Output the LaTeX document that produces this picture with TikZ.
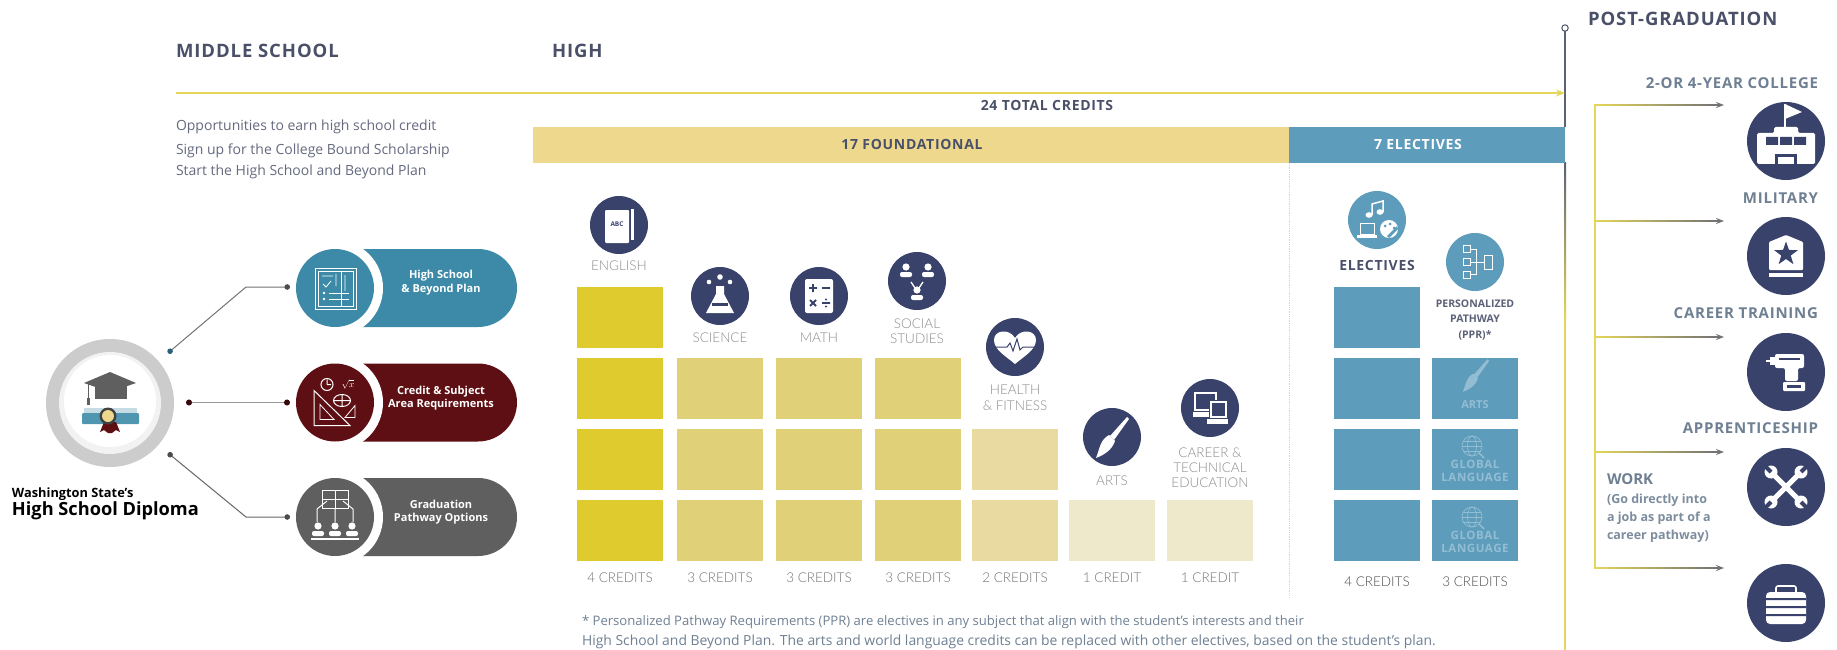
\documentclass[tikz,border=0pt]{standalone}
\usepackage{fontspec}
\setmainfont{Open Sans}
\newfontfamily\latofont{Lato Light}
\newfontfamily\spaced[LetterSpace=5]{Open Sans}
\usetikzlibrary{arrows.meta,shapes.geometric,shapes.misc}
\definecolor{navy}{HTML}{39426B}
\definecolor{head}{HTML}{4A5068}
\definecolor{ylw}{HTML}{E4D65A}
\definecolor{bandy}{HTML}{EDD88E}
\definecolor{blu}{HTML}{5E9CBB}
\definecolor{teal}{HTML}{3C8AA8}
\definecolor{maroon}{HTML}{5E0F14}
\definecolor{gry}{HTML}{5F5F5F}
\definecolor{cA}{HTML}{E0CB2E}
\definecolor{cB}{HTML}{E0D078}
\definecolor{cC}{HTML}{E8DAA0}
\definecolor{cD}{HTML}{EFE9CB}
\definecolor{pale}{HTML}{93BDD3}
\definecolor{slate}{HTML}{6F8093}
\newcommand{\fsz}[2]{\fontsize{#1}{#2}\selectfont}
\newcommand{\person}[3]{\begin{scope}[shift={(#1,#2)}]
 \fill[#3] (0,-4) circle (3.6pt);
 \fill[#3,rounded corners=2pt] (-6,6) -- (-6,1) -- (6,1) -- (6,6) -- cycle;
\end{scope}}
\newcommand{\brushicon}[3]{\begin{scope}[shift={(#1,#2)}]
 \fill[#3] (17,-21) -- (19,-19) -- (4,2) -- (0,-2) -- cycle;
 \fill[#3] (-1,-3) .. controls (-10,2) and (-10,10) .. (-14,20) .. controls (-6,17) and (2,12) .. (5,3) -- cycle;
\end{scope}}
\newcommand{\globeicon}[2]{\begin{scope}[shift={(#1,#2)},draw=pale,line width=.7pt]
 \draw (0,0) circle (10pt);
 \draw (0,0) ellipse (4.5pt and 10pt);
 \draw (-10,0) -- (10,0) (-9,-5) -- (9,-5) (-9,5) -- (9,5);
 \draw[line width=1.4pt] (7,7) -- (12,12);
\end{scope}}
\tikzset{
 txt/.style={inner sep=0pt,outer sep=0pt},
 hdr/.style={txt,anchor=west,text=head,font=\spaced\fsz{18.5}{20}\bfseries},
 lst/.style={txt,anchor=west,text=head!85!white,font=\fsz{14}{16}\mdseries},
 band/.style={txt,text=#1,font=\spaced\fsz{14}{16}\bfseries},
 bar/.style={fill=#1,draw=none},
 subj/.style={txt,align=center,text=black!45!white,font=\latofont\fsz{13.5}{#1}},
 subj/.default=15,
 cred/.style={txt,text=black!55!white,font=\latofont\fsz{13.5}{15}},
 disc/.style={circle,fill=#1,draw=none,minimum size=58pt,inner sep=0pt},
 big/.style={circle,fill=navy,draw=none,minimum size=78pt,inner sep=0pt},
 postl/.style={txt,anchor=east,text=slate,font=\spaced\fsz{15}{17}\bfseries},
 pilltxt/.style={txt,align=center,text=white,font=\fsz{11}{13.5}\bfseries},
 pill/.style={rounded rectangle,rounded rectangle west arc=none,fill=#1,draw=none,minimum width=182pt,minimum height=78pt,inner sep=0pt},
 pillic/.style={circle,fill=#1,draw=none,minimum size=78pt,inner sep=0pt},
 halo/.style={circle,fill=white,draw=none,minimum size=96pt,inner sep=0pt},
 branch/.style={draw=black!55!white,line width=1.6pt,-{Stealth[length=8pt,width=6pt]}},
 ln/.style={draw=white,line width=.8pt},
}
\begin{document}
\begin{tikzpicture}[x=1pt,y=-1pt]
\useasboundingbox (0,0) rectangle (1837,650);
\fill[white] (0,0) rectangle (1837,650);

% headers
\node[hdr] (hms) at (176,51) {MIDDLE SCHOOL};
\node[hdr] (hhi) at (552,51) {HIGH};
\node[hdr] (hpg) at (1588,19) {POST-GRADUATION};
\node[lst] (l1) at (176,127) {Opportunities to earn high school credit};
\node[lst] (l2) at (176,151) {Sign up for the College Bound Scholarship};
\node[lst] (l3) at (176,172) {Start the High School and Beyond Plan};

% main axis
\coordinate (ax0) at (176,93);
\coordinate (ax1) at (1565,93);
\coordinate (vt) at (1565,28);
\coordinate (vb) at (1565,163);
\draw[line width=1.8pt,head!90!white] (vt) ++(0,3) -- (1565,127);
\draw[head,line width=1pt,fill=white] (vt) circle (3.2pt);
\shade[top color=head!90!white,bottom color=ylw] (1564,163) rectangle (1566,320);
\fill[ylw] (1564,320) rectangle (1566,650);
\draw[ylw,line width=1.6pt,-{Stealth[length=9pt,width=7pt]}] (ax0) -- (ax1);
\node[band=head] (tot) at (1047,105) {24 TOTAL CREDITS};
\fill[bandy] (533,127) rectangle (1289,163);
\fill[blu] (1289,127) rectangle (1565,163);
\node[band=head] (f17) at (912,144) {17 FOUNDATIONAL};
\node[band=white] (e7) at (1418,144) {7 ELECTIVES};
\coordinate (da) at (1289,163);
\coordinate (db) at (1289,598);
\draw[densely dotted,line width=.8pt,color=ylw!80!white] (da) -- (db);

% bars
\foreach \x/\c/\ys in {577/cA/{287,358,429,500},677/cB/{358,429,500},776/cB/{358,429,500},875/cB/{358,429,500},972/cC/{429,500},1069/cD/{500},1167/cD/{500},1334/blu/{287,358,429,500},1432/blu/{358,429,500}}{
  \foreach \y in \ys { \fill[bar=\c] (\x,\y) rectangle ++(86,61); }
}
% credits
\node[cred] (c1) at (620,578) {4 CREDITS};
\node[cred] (c2) at (720,578) {3 CREDITS};
\node[cred] (c3) at (819,578) {3 CREDITS};
\node[cred] (c4) at (918,578) {3 CREDITS};
\node[cred] (c5) at (1015,578) {2 CREDITS};
\node[cred] (c6) at (1112,578) {1 CREDIT};
\node[cred] (c7) at (1210,578) {1 CREDIT};
\node[cred,text=black!70!white] (c8) at (1377,582) {4 CREDITS};
\node[cred,text=black!70!white] (c9) at (1475,582) {3 CREDITS};
% subject labels
\node[subj] (sEng) at (619,266) {ENGLISH};
\node[subj] (sSci) at (720,338) {SCIENCE};
\node[subj] (sMat) at (819,338) {MATH};
\node[subj=14.5] (sSoc) at (917,331) {SOCIAL\\STUDIES};
\node[subj=16] (sHea) at (1015,398) {HEALTH\\\& FITNESS};
\node[subj] (sArt) at (1112,481) {ARTS};
\node[subj=15] (sCar) at (1210,468) {CAREER \&\\TECHNICAL\\EDUCATION};
\node[txt,text=head,font=\spaced\fsz{14}{16}\bfseries] (sEle) at (1377,265) {ELECTIVES};
\node[txt,align=center,text=head!90!white,font=\fsz{10.5}{15.5}\bfseries] (sPpr) at (1475,320) {PERSONALIZED\\PATHWAY\\(PPR)*};

% subject discs and icons
\node[disc=navy] (dEng) at (619,225) {};
\begin{scope}[shift={(619,225)}]
 \fill[white] (11,-16) rectangle (15,15);
 \fill[navy] (9,-17) rectangle (12,16);
 \fill[white,rounded corners=1pt] (-14,-15) rectangle (10,18);
 \node[txt,text=navy,font=\fsz{6.5}{7}\bfseries] (abc) at (-2,-1) {ABC};
\end{scope}
\node[disc=navy] (dSci) at (720,296) {};
\begin{scope}[shift={(720,296)}]
 \fill[white,line join=round] (-4,-10) -- (4,-10) -- (4,-2) -- (14,17) -- (-14,17) -- (-4,-2) -- cycle;
 \fill[navy] (-8,7) rectangle (8,10);
 \fill[white] (-11,-14) circle (2.3pt) (0,-19) circle (2.8pt) (10,-14) circle (2.3pt);
\end{scope}
\node[disc=navy] (dMat) at (819,296) {};
\begin{scope}[shift={(819,296)}]
 \fill[white,rounded corners=2pt] (-14,-17) rectangle (14,17);
 \draw[navy,line width=1.8pt] (-10,-8) -- (-2,-8) (-6,-12) -- (-6,-4) (3,-8) -- (11,-8) (-9,4) -- (-3,10) (-3,4) -- (-9,10) (3,7) -- (11,7);
 \fill[navy] (7,3.5) circle (1.1pt) (7,10.5) circle (1.1pt);
\end{scope}
\node[disc=navy] (dSoc) at (917,281) {};
\begin{scope}[shift={(917,281)}]
 \person{-11}{-10}{white}
 \person{11}{-10}{white}
 \person{0}{13}{white}
 \draw[white,line width=1.3pt] (-6,1) -- (-2,7) (6,1) -- (2,7);
\end{scope}
\node[disc=navy] (dHea) at (1015,347) {};
\begin{scope}[shift={(1015,347)}]
 \fill[white] (0,17) .. controls (-8,10) and (-21,3) .. (-21,-7) .. controls (-21,-17) and (-6,-19) .. (0,-9) .. controls (6,-19) and (21,-17) .. (21,-7) .. controls (21,3) and (8,10) .. (0,17) -- cycle;
 \draw[navy,line width=1pt] (-22,0) -- (-8,0) -- (-5,-4) -- (-2,4) -- (2,-8) -- (5,3) -- (8,0) -- (22,0);
\end{scope}
\node[disc=navy] (dArt) at (1112,437) {};
\brushicon{1110}{438}{white}
\node[disc=navy] (dCar) at (1210,408) {};
\begin{scope}[shift={(1210,408)}]
 \draw[white,line width=1.6pt] (-15,-15) rectangle (6,2);
 \fill[white] (-17,4) rectangle (-1,9);
 \fill[navy] (-1,-8) rectangle (18,14);
 \draw[white,line width=1.6pt] (1,-6) rectangle (16,9);
 \fill[white] (-3,11) rectangle (18,16);
\end{scope}
\node[disc=blu] (dEle) at (1377,220) {};
\begin{scope}[shift={(1377,220)}]
 \draw[white,line width=1.5pt] (-5,-5) -- (-5,-16) -- (6,-19) -- (6,-8);
 \fill[white] (-8,-5) ellipse (3.5pt and 2.8pt) (3,-8) ellipse (3.5pt and 2.8pt);
 \draw[white,line width=1pt] (-17,3) rectangle (-3,14);
 \fill[white] (-20,15) rectangle (0,18);
 \fill[white] (12,9) circle (9pt);
 \fill[blu] (8,6) circle (1.5pt) (13,4) circle (1.5pt) (17,8) circle (1.5pt) (10,16) -- (20,6) -- (21,9) -- (12,18) -- cycle;
\end{scope}
\node[disc=blu] (dPpr) at (1475,262) {};
\begin{scope}[shift={(1475,262)},ln]
 \draw[white,line width=1pt] (-12,-17) rectangle (-5,-10) (-12,-4) rectangle (-5,3) (-12,9) rectangle (-5,16);
 \draw[white,line width=1pt] (-5,-13) -- (1,-13) -- (1,12) -- (-5,12) (-5,0) -- (9,0);
 \draw[white,line width=1pt] (9,-7) rectangle (17,7);
\end{scope}
% ppr cell contents
\begin{scope}[shift={(1474,376)},scale=.8]
\brushicon{0}{0}{pale}
\end{scope}
\node[txt,text=pale,font=\fsz{11}{12}\bfseries] (tArts) at (1475,405) {ARTS};
\globeicon{1472}{446}
\node[txt,align=center,text=pale,font=\spaced\fsz{11.5}{13}\bfseries] (tGl1) at (1475,471) {GLOBAL\\LANGUAGE};
\globeicon{1472}{517}
\node[txt,align=center,text=pale,font=\spaced\fsz{11.5}{13}\bfseries] (tGl2) at (1475,542) {GLOBAL\\LANGUAGE};

% diploma
\node[circle,fill=black!20!white,minimum size=128pt,inner sep=0pt] (dip) at (110,403) {};
\node[circle,fill=black!5!white,minimum size=102pt,inner sep=0pt] (dipmid) at (110,403) {};
\node[circle,fill=white,minimum size=92pt,inner sep=0pt] (dipin) at (110,401) {};
\fill[gry] (95,386) rectangle (127,399);
\fill[gry] (84,383) -- (110,372) -- (136,383) -- (110,392) -- cycle;
\draw[gry,line width=1pt] (88,384) -- (88,398);
\fill[gry] (86.5,398) rectangle (89.5,405);
\fill[teal!30!white] (84,408) rectangle (137,413);
\fill[teal!90!white,rounded corners=1pt] (82,413) rectangle (139,424);
\fill[maroon] (104,422) -- (100,432) -- (104,430) -- (108,433) -- (112,433) -- (116,430) -- (120,432) -- (116,422) -- cycle;
\fill[black!75!white] (108,416) circle (8.5pt);
\fill[bandy] (108,416) circle (6pt);
\node[txt,anchor=west,font=\fsz{12.8}{14}\bfseries] (dt1) at (12,494) {Washington State's};
\node[txt,anchor=west,font=\fsz{18.2}{20}\bfseries] (dt2) at (12,511) {High School Diploma};

% pills
\node[pill=teal] (p1) at (426,288) {};
\node[pill=maroon] (p2) at (426,402.5) {};
\node[pill=gry] (p3) at (426,517) {};
\node[halo] (h1) at (335,288) {};
\node[halo] (h2) at (335,402.5) {};
\node[halo] (h3) at (335,517) {};
\node[pillic=teal] (i1) at (335,288) {};
\node[pillic=maroon] (i2) at (335,402.5) {};
\node[pillic=gry] (i3) at (335,517) {};
\node[pilltxt] (t1) at (441,282.5) {High School\\\& Beyond Plan};
\node[pilltxt] (t2) at (441,398) {Credit \& Subject\\Area Requirements};
\node[pilltxt] (t3) at (441,512) {Graduation\\Pathway Options};
\begin{scope}[shift={(335,288)}]
 \draw[ln] (-20,-20) rectangle (21,21);
 \draw[ln] (-17,-17) rectangle (6,18);
 \draw[ln] (6,-17) -- (18,-17) -- (18,18) -- (6,18);
 \draw[ln] (-13,-12) -- (-2,-12) (-12,-4) -- (-9,-1) -- (-4,-7) (1,-14) -- (1,-2) (10,-13) -- (10,3);
 \fill[white] (-11,5) circle (1.3pt) (-11,11) circle (1.3pt);
 \draw[ln] (-6,5) -- (14,5) (-6,11) -- (14,11);
\end{scope}
\begin{scope}[shift={(335,402.5)}]
 \draw[ln,line width=1pt] (-21,-12) -- (-21,23) -- (15,23) -- cycle;
 \draw[ln] (-15,2) -- (-15,17) -- (-1,17) -- cycle;
 \draw[ln,line width=1pt] (-8,-18) circle (6pt) (-8,-18) -- (-8,-23) (-8,-18) -- (-4,-18);
 \node[txt,text=white,font=\fsz{9}{10}\bfseries] (rt) at (13,-18) {$\sqrt{x}$};
 \draw[ln,line width=1pt] (7,-2) ellipse (8.5pt and 6pt) (-1,-2) -- (15,-2) (7,-8) -- (7,4);
 \draw[ln] (10,15) -- (20,3) -- (20,15) -- cycle;
\end{scope}
\begin{scope}[shift={(335,517)}]
 \draw[white,line width=1pt] (-13,-27) rectangle (13,-9) (0,-27) -- (0,-9) (-13,-18) -- (13,-18);
 \draw[white,line width=1pt] (-8,-16) -- (-18,-8) -- (-18,5) (0,-9) -- (0,5) (8,-16) -- (18,-8) -- (18,5);
 \person{-17}{13}{white}
 \person{0}{13}{white}
 \person{17}{13}{white}
 \fill[white] (-24,21) rectangle (24,23);
\end{scope}
% diploma connectors
\coordinate (a1) at (168,353);
\coordinate (a1m) at (246,287);
\coordinate (a1e) at (290,287);
\coordinate (a2) at (186,402.5);
\coordinate (a2e) at (290,402.5);
\coordinate (a3) at (168,453);
\coordinate (a3m) at (246,517);
\coordinate (a3e) at (290,517);
\draw[black!55!white,line width=1pt,{Circle[length=5.5pt,color=teal!70!black]}-{Circle[length=5.5pt,color=black!70!white]}] (a1) -- (a1m) -- (a1e);
\draw[black!40!white,line width=1.3pt,{Circle[length=6pt,color=maroon!60!black]}-{Circle[length=6pt,color=maroon!60!black]}] (a2) -- (a2e);
\draw[black!60!white,line width=1pt,{Circle[length=5.5pt,color=black!70!white]}-{Circle[length=5.5pt,color=black!70!white]}] (a3) -- (a3m) -- (a3e);

% post-graduation
\coordinate (tt) at (1595,105);
\coordinate (tb) at (1595,568);
\coordinate (b2) at (1595,221);
\coordinate (b3) at (1595,337);
\coordinate (b4) at (1595,452);
\coordinate (e1) at (1724,105);
\coordinate (e2) at (1724,221);
\coordinate (e3) at (1724,337);
\coordinate (e4) at (1724,452);
\coordinate (e5) at (1724,568);
\foreach \s/\e in {tt/e1,b2/e2,b3/e3,b4/e4,tb/e5}{
  \draw[branch] (\s) -- (\e);
  \shade[left color=ylw,right color=black!55!white] ([yshift=-.8pt]\s) rectangle ([xshift=-8pt,yshift=.8pt]\e);
}
\draw[ylw,line width=1.6pt] ([yshift=.8pt]tt) -- ([yshift=-.8pt]tb);
\node[postl] (q1) at (1818,83) {2-OR 4-YEAR COLLEGE};
\node[postl] (q2) at (1818,198) {MILITARY};
\node[postl] (q3) at (1818,313) {CAREER TRAINING};
\node[postl] (q4) at (1818,428) {APPRENTICESHIP};
\node[txt,anchor=west,text=slate,font=\fsz{15}{18}\bfseries] (w0) at (1607,479) {WORK};
\node[txt,anchor=north west,align=left,text=slate!90!white,font=\fsz{12.5}{18}\bfseries] (w1) at (1607,494) {(Go directly into\\a job as part of a\\career pathway)};

\node[big] (g1) at (1786,141) {};
\begin{scope}[shift={(1786,141)}]
 \draw[white,line width=1.4pt] (-1,-12) -- (-1,-37);
 \fill[white] (-1,-37) -- (16,-29) -- (-1,-22) -- cycle;
 \fill[white,rounded corners=1.5pt] (-29,-8) -- (-12,-8) -- (-12,-14) -- (12,-14) -- (12,-8) -- (29,-8) -- (29,23) -- (-29,23) -- cycle;
 \fill[navy] (-20,-4) rectangle (-8,4) (-6,-4) rectangle (6,4) (8,-4) rectangle (20,4);
 \fill[navy] (-11,13) rectangle (11,23);
 \fill[white] (-8,16) rectangle (8,23);
\end{scope}
\node[big] (g2) at (1786,256) {};
\begin{scope}[shift={(1786,256)}]
 \fill[white,rounded corners=1pt] (-17,-14) -- (0,-21) -- (17,-14) -- (17,14) -- (-17,14) -- cycle;
 \fill[white] (-17,17) rectangle (17,21);
 \node[star,star points=5,star point ratio=2.5,fill=navy,minimum size=25pt,inner sep=0pt] (st) at (0,-2) {};
\end{scope}
\node[big] (g3) at (1786,372) {};
\begin{scope}[shift={(1786,372)}]
 \fill[white,rounded corners=2pt] (-11,-18) -- (18,-18) -- (18,-4) -- (12,-4) -- (12,9) -- (-1,9) -- (-1,-4) -- (-11,-4) -- cycle;
 \fill[white] (-16,-15) rectangle (-11,-7);
 \fill[white] (-20,-12) rectangle (-16,-10);
 \fill[navy] (-7,-14) rectangle (14,-12.5);
 \fill[white,rounded corners=1pt] (-3,10) rectangle (19,19);
 \fill[navy] (1,13) rectangle (15,16);
\end{scope}
\node[big] (g4) at (1786,487) {};
\begin{scope}[shift={(1786,487)}]
 \draw[white,line width=5pt] (-14,-14) -- (14,14) (14,-14) -- (-14,14);
 \fill[white] (-15,-15) circle (6.5pt) (15,-15) circle (6.5pt) (-15,15) circle (6.5pt) (15,15) circle (6.5pt);
 \draw[navy,line width=4pt] (-20,-20) -- (-15,-15) (20,-20) -- (15,-15) (-20,20) -- (-15,15) (20,20) -- (15,15);
\end{scope}
\node[big] (g5) at (1786,603) {};
\begin{scope}[shift={(1786,603)}]
 \draw[white,line width=1.6pt,rounded corners=2pt] (-10,-10) -- (-10,-17) -- (10,-17) -- (10,-10);
 \fill[white,rounded corners=4pt] (-20,-11) rectangle (20,21);
 \fill[navy] (-20,-5) rectangle (20,-3) (-20,3) rectangle (20,5) (-20,11) rectangle (20,13);
\end{scope}

% footnote
\node[txt,anchor=west,text=slate,font=\fsz{13.1}{15}] (fn1) at (582,622) {* Personalized Pathway Requirements (PPR) are electives in any subject that align with the student's interests and their};
\node[txt,anchor=west,text=slate,font=\fsz{13.9}{15}] (fn2) at (582,642) {High School and Beyond Plan. The arts and world language credits can be replaced with other electives, based on the student's plan.};
\end{tikzpicture}
\end{document}
